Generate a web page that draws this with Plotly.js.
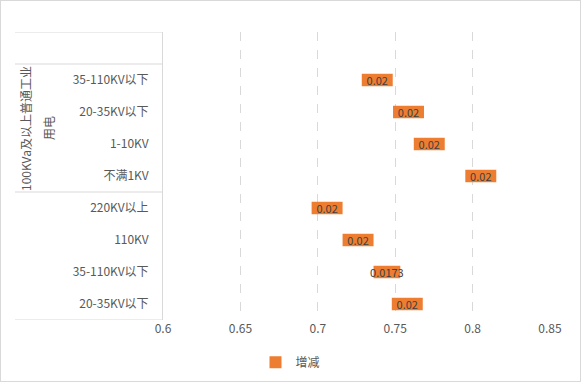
<!DOCTYPE html>
<html>
<head>
<meta charset="utf-8">
<script src="https://cdn.plot.ly/plotly-3.0.1.min.js"></script>
<style>
  html, body { margin: 0; padding: 0; background: #fff; }
  #wrap { position: relative; width: 581px; height: 382px; }
  #chart { width: 581px; height: 382px; }
  #frame { position: absolute; left: 0; top: 0; width: 579px; height: 380px; border: 1px solid #d9d9d9; pointer-events: none; }
</style>
</head>
<body>
<div id="wrap"><div id="chart"></div><div id="frame"></div></div>
<script>
// Category rows, top to bottom (first row is an empty category)
const categories = ["", "35-110KV以下", "20-35KV以下", "1-10KV", "不满1KV", "220KV以上", "110KV", "35-110KV以下", "20-35KV以下"];
const groupLabelLine1 = "100KVa及以上普通工业";
const groupLabelLine2 = "用电";
// Floating bars: start value and change (增减) for rows 1..8
const barCategories = categories.slice(1);
const baseValues = [0.7284, 0.7486, 0.762, 0.7953, 0.696, 0.716, 0.736, 0.7478];
const changeValues = [0.02, 0.02, 0.02, 0.02, 0.02, 0.02, 0.0173, 0.02];
const xTickVals = [0.6, 0.65, 0.7, 0.75, 0.8, 0.85];
const seriesName = "增减";

const rowIndex = categories.map((c, i) => i);
const barRows = barCategories.map((c, i) => i + 1);

const FONT = '"Noto Sans CJK SC", "Noto Sans", sans-serif';
const GRID = '#d9d9d9';
const TXT = '#595959';

const trace = {
  type: 'bar',
  orientation: 'h',
  name: seriesName,
  y: barRows,
  x: changeValues,
  base: baseValues,
  width: 0.39,
  marker: { color: '#ED7D31' },
  text: changeValues.map(v => String(v)),
  texttemplate: '%{text}',
  textposition: 'inside',
  insidetextanchor: 'middle',
  textangle: 0,
  constraintext: 'none',
  textfont: { family: FONT, size: 11, color: '#404040' },
  hoverinfo: 'skip'
};

const xl = -0.3824; // left edge of the category table, in paper units
const shapes = [-0.5, 0.5, 4.5, 8.5].map(y => ({
  type: 'line', xref: 'paper', yref: 'y', x0: xl, x1: 0, y0: y, y1: y,
  line: { color: GRID, width: 1 }
}));

const layout = {
  width: 581, height: 382,
  margin: { l: 163, r: 31, t: 32, b: 62 },
  paper_bgcolor: 'rgba(0,0,0,0)',
  plot_bgcolor: 'rgba(0,0,0,0)',
  font: { family: FONT, size: 12, color: TXT },
  showlegend: true,
  legend: {
    orientation: 'h', xref: 'container', yref: 'container',
    x: 0.5, xanchor: 'center', y: 0.052, yanchor: 'middle',
    font: { family: FONT, size: 12, color: TXT },
    itemwidth: 30
  },
  xaxis: {
    range: [0.6, 0.85],
    tickvals: xTickVals,
    ticktext: xTickVals.map(v => String(v)),
    showgrid: true, gridcolor: GRID, griddash: 'dash', gridwidth: 1,
    zeroline: false, showline: false, ticks: '',
    tickfont: { family: FONT, size: 12, color: TXT },
    fixedrange: true
  },
  yaxis: {
    range: [8.5, -0.5],
    tickvals: rowIndex,
    ticktext: categories,
    showgrid: false, zeroline: false,
    showline: true, linecolor: GRID, linewidth: 1,
    ticks: 'outside', ticklen: 11, tickcolor: 'rgba(0,0,0,0)',
    tickfont: { family: FONT, size: 12, color: TXT },
    fixedrange: true
  },
  shapes: shapes,
  annotations: [
    { xref: 'paper', yref: 'y', x: -0.3566, y: 2.5, xanchor: 'center', yanchor: 'middle',
      text: groupLabelLine1, textangle: -90,
      showarrow: false, font: { family: FONT, size: 12, color: TXT } },
    { xref: 'paper', yref: 'y', x: -0.2972, y: 2.5, xanchor: 'center', yanchor: 'middle',
      text: groupLabelLine2, textangle: -90,
      showarrow: false, font: { family: FONT, size: 12, color: TXT } }
  ]
};

Plotly.newPlot('chart', [trace], layout, { displayModeBar: false, staticPlot: true });
</script>
</body>
</html>
